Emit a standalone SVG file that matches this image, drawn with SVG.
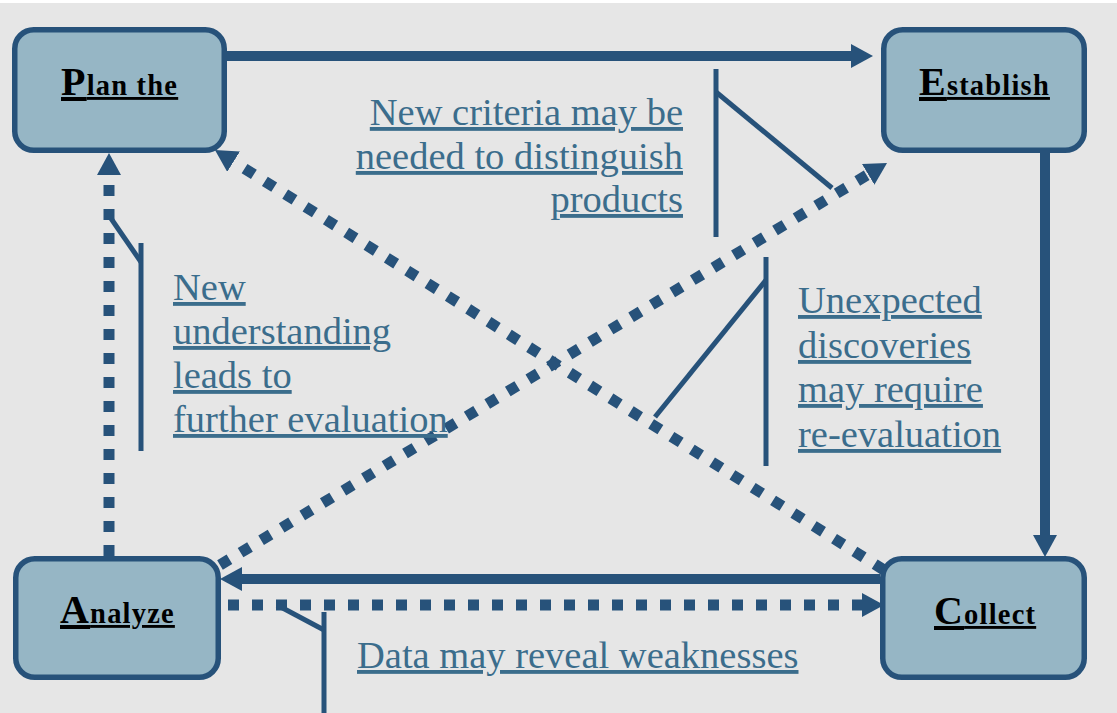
<svg xmlns="http://www.w3.org/2000/svg" width="1117" height="713" viewBox="0 0 1117 713">
  <style>
    .node rect { fill: #96b6c5; stroke: #27527a; stroke-width: 5.5; }
    .ntext { font-family: "Liberation Serif", "Times New Roman", serif; font-weight: bold; font-size: 28.5px; fill: #000; text-decoration: underline; letter-spacing: 1.2px; }
    .cap { font-size: 40px; }
    .solid { stroke: #27527a; stroke-width: 10; fill: none; }
    .dotted { stroke: #27527a; stroke-width: 11; fill: none; stroke-dasharray: 11 13; }
    .callout { stroke: #27527a; stroke-width: 5; fill: none; }
    .label { font-family: "Liberation Serif", "Times New Roman", serif; font-size: 38.5px; fill: #3b6d8c; text-decoration: underline; }
  </style>
  <defs>
    <marker id="arrow" viewBox="0 0 22 24" markerWidth="22" markerHeight="24" refX="0" refY="12" orient="auto" markerUnits="userSpaceOnUse">
      <path d="M0,0 L22,12 L0,24 Z" fill="#27527a"/>
    </marker>
  </defs>
  <rect x="0" y="0" width="1117" height="713" fill="#ffffff"/>
  <rect x="0" y="3" width="1117" height="710" fill="#e6e6e6"/>

  <g id="connectors">
    <line class="solid" x1="227" y1="56" x2="851" y2="56" marker-end="url(#arrow)"/>
    <line class="solid" x1="1045" y1="153" x2="1045" y2="535" marker-end="url(#arrow)"/>
    <line class="solid" x1="880" y1="579" x2="242" y2="579" marker-end="url(#arrow)"/>
    <line class="dotted" x1="228" y1="605" x2="862" y2="605" marker-end="url(#arrow)"/>
    <line class="dotted" x1="109" y1="556" x2="109" y2="175" marker-end="url(#arrow)"/>
    <line class="dotted" x1="884" y1="570" x2="233.6" y2="161.7" marker-end="url(#arrow)"/>
    <line class="dotted" x1="220" y1="565" x2="868.2" y2="174.4" marker-end="url(#arrow)"/>
  </g>

  <g id="callouts">
    <polyline class="callout" points="716,69 716,237"/>
    <line class="callout" x1="716" y1="92" x2="832" y2="188"/>
    <polyline class="callout" points="766,257 766,466"/>
    <line class="callout" x1="766" y1="280" x2="655" y2="417"/>
    <polyline class="callout" points="141,243 141,451"/>
    <line class="callout" x1="141" y1="262" x2="110" y2="217"/>
    <polyline class="callout" points="324,612 324,713"/>
    <line class="callout" x1="324" y1="630" x2="277" y2="605"/>
  </g>

  <g id="node-plan" class="node">
    <rect x="14.75" y="29.75" width="209.5" height="120.5" rx="19"/>
    <text class="ntext" x="61" y="95"><tspan class="cap">P</tspan>lan the</text>
  </g>
  <g id="node-establish" class="node">
    <rect x="883.75" y="29.75" width="200.5" height="120.5" rx="19"/>
    <text class="ntext" x="919" y="95"><tspan class="cap">E</tspan>stablish</text>
  </g>
  <g id="node-analyze" class="node">
    <rect x="15.75" y="558.75" width="202.5" height="118.5" rx="19"/>
    <text class="ntext" x="60" y="623"><tspan class="cap">A</tspan>nalyze</text>
  </g>
  <g id="node-collect" class="node">
    <rect x="882.75" y="558.75" width="201.5" height="118.5" rx="19"/>
    <text class="ntext" x="934" y="624"><tspan class="cap">C</tspan>ollect</text>
  </g>

  <g id="labels">
    <text class="label" text-anchor="end"><tspan x="683" y="125">New criteria may be</tspan><tspan x="683" y="169">needed to distinguish</tspan><tspan x="683" y="212">products</tspan></text>
    <text class="label"><tspan x="173" y="300">New</tspan><tspan x="173" y="344">understanding</tspan><tspan x="173" y="388">leads to</tspan><tspan x="173" y="432">further evaluation</tspan></text>
    <text class="label"><tspan x="798" y="313">Unexpected</tspan><tspan x="798" y="358">discoveries</tspan><tspan x="798" y="402">may require</tspan><tspan x="798" y="447">re-evaluation</tspan></text>
    <text class="label" x="357" y="668">Data may reveal weaknesses</text>
  </g>
</svg>
